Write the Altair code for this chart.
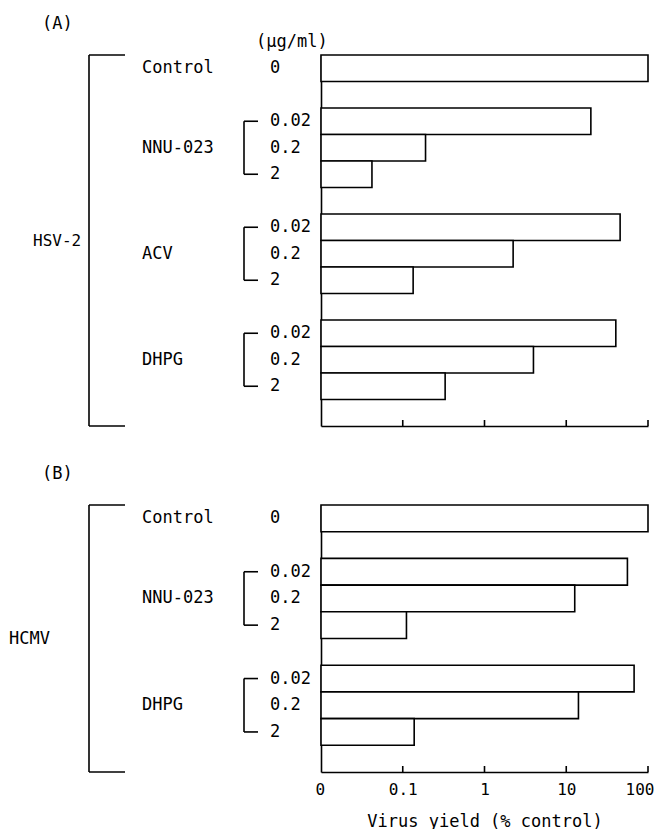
import altair as alt
import pandas as pd

# ---------------- data ----------------
a_virus = "HSV-2"
a_drugs = ["Control", "NNU-023", "ACV", "DHPG"]
a_yield = {
    "Control": [100],
    "NNU-023": [20, 0.19, 0.042],
    "ACV": [45.6, 2.24, 0.134],
    "DHPG": [40.4, 3.97, 0.33],
}
b_virus = "HCMV"
b_drugs = ["Control", "NNU-023", "DHPG"]
b_yield = {
    "Control": [100],
    "NNU-023": [56, 12.7, 0.111],
    "DHPG": [67.6, 14.1, 0.138],
}
control_dose = ["0"]
doses = ["0.02", "0.2", "2"]
tick_values = [0.01, 0.1, 1, 10, 100]
tick_labels = ["0", "0.1", "1", "10", "100"]
inner_ticks = [0.1, 1, 10, 100]
unit_label = "(µg/ml)"
x_title = "Virus yield (% control)"

W = 327
MONO = "DejaVu Sans Mono"
FS = 17
LW = 1.6


def build_tables(drugs, yields):
    rows, groups = [], []
    s = 0
    for d in drugs:
        ds = control_dose if d == "Control" else doses
        for i, (dose, v) in enumerate(zip(ds, yields[d])):
            rows.append({"drug": d, "dose": dose, "value": v,
                         "top": s + i, "bot": s + i + 1, "mid": s + i + 0.5})
        groups.append({"drug": d, "first": s + 0.5, "last": s + len(ds) - 0.5,
                       "center": s + len(ds) / 2.0, "bracket": d != "Control"})
        s += len(ds) + 1
    return pd.DataFrame(rows), pd.DataFrame(groups), s


def panel(letter, virus, drugs, yields, H, virus_x, virus_fs, show_labels):
    df, gdf, n = build_tables(drugs, yields)
    yscale = alt.Scale(domain=[0, n], reverse=True, nice=False, zero=False)
    xscale = alt.Scale(type="log", domain=[0.01, 100], nice=False)
    label_expr = "{" + ",".join(f"'{v}':'{l}'" for v, l in zip(tick_values, tick_labels)) + "}[datum.value + '']"
    if show_labels:
        xaxis = alt.Axis(values=tick_values, ticks=False, tickSize=0, grid=False,
                         domainColor="black", domainWidth=LW,
                         labelFont=MONO, labelFontSize=16, labelColor="black",
                         labelPadding=9, labelFlush=True, labelFlushOffset=6,
                         labelExpr=label_expr,
                         title=x_title, titleFont=MONO, titleFontSize=17,
                         titleFontWeight="normal", titleColor="black", titlePadding=16)
    else:
        xaxis = alt.Axis(values=tick_values, ticks=False, tickSize=0, grid=False,
                         labels=False, domainColor="black", domainWidth=LW, title=None)
    yaxis = alt.Axis(labels=False, ticks=False, grid=False, title=None,
                     domainColor="black", domainWidth=LW)

    bars = alt.Chart(df).mark_bar(fill="white", stroke="black", strokeWidth=LW).encode(
        x=alt.X("value:Q", scale=xscale, axis=xaxis),
        x2=alt.datum(0.01),
        y=alt.Y("top:Q", scale=yscale, axis=yaxis),
        y2="bot:Q",
    )
    dose_txt = alt.Chart(df).mark_text(align="left", baseline="middle", font=MONO,
                                       fontSize=FS, color="black").encode(
        x=alt.value(-51), y=alt.Y("mid:Q"), text="dose:N")
    drug_txt = alt.Chart(gdf).mark_text(align="left", baseline="middle", font=MONO,
                                        fontSize=FS, color="black").encode(
        x=alt.value(-179), y=alt.Y("center:Q"), text="drug:N")
    bdf = gdf[gdf["bracket"]]
    br_v = alt.Chart(bdf).mark_rule(color="black", strokeWidth=LW).encode(
        x=alt.value(-77), y="first:Q", y2="last:Q")
    br_t = alt.Chart(bdf).mark_rule(color="black", strokeWidth=LW).encode(
        x=alt.value(-77), x2=alt.value(-63), y="first:Q")
    br_b = alt.Chart(bdf).mark_rule(color="black", strokeWidth=LW).encode(
        x=alt.value(-77), x2=alt.value(-63), y="last:Q")

    vdf = pd.DataFrame({"virus": [virus], "y0": [0], "y1": [n], "yc": [n / 2.0],
                        "letter": [letter], "unit": [unit_label]})
    big_v = alt.Chart(vdf).mark_rule(color="black", strokeWidth=LW).encode(
        x=alt.value(-232), y="y0:Q", y2="y1:Q")
    big_t = alt.Chart(vdf).mark_rule(color="black", strokeWidth=LW).encode(
        x=alt.value(-232), x2=alt.value(-196), y="y0:Q")
    big_b = alt.Chart(vdf).mark_rule(color="black", strokeWidth=LW).encode(
        x=alt.value(-232), x2=alt.value(-196), y="y1:Q")
    virus_txt = alt.Chart(vdf).mark_text(align="left", baseline="middle", font=MONO,
                                         fontSize=virus_fs, color="black").encode(
        x=alt.value(virus_x), y="yc:Q", text="virus:N")
    letter_txt = alt.Chart(vdf).mark_text(align="left", baseline="middle", font=MONO,
                                          fontSize=FS, color="black").encode(
        x=alt.value(-279), y=alt.value(-31), text="letter:N")
    layers = [bars, dose_txt, drug_txt, br_v, br_t, br_b, big_v, big_t, big_b,
              virus_txt, letter_txt]
    if letter == "(A)":
        unit_txt = alt.Chart(vdf).mark_text(align="left", baseline="middle", font=MONO,
                                            fontSize=FS, color="black").encode(
            x=alt.value(-65), y=alt.value(-13), text="unit:N")
        layers.append(unit_txt)
    tdf = pd.DataFrame({"t": inner_ticks})
    ticks = alt.Chart(tdf).mark_rule(color="black", strokeWidth=LW).encode(
        x=alt.X("t:Q"), y=alt.value(H), y2=alt.value(H - 6))
    layers.append(ticks)
    return alt.layer(*layers).properties(width=W, height=H)


pa = panel("(A)", a_virus, a_drugs, a_yield, 371, -288, 16, False)
pb = panel("(B)", b_virus, b_drugs, b_yield, 267, -312, 17, True)

chart = alt.vconcat(pa, pb, spacing=79, bounds="flush").properties(
    padding={"left": 1, "top": 7, "right": 0, "bottom": 0}
).configure_view(stroke=None)

chart.save("out.html", embed_options={"renderer": "svg", "actions": False})
